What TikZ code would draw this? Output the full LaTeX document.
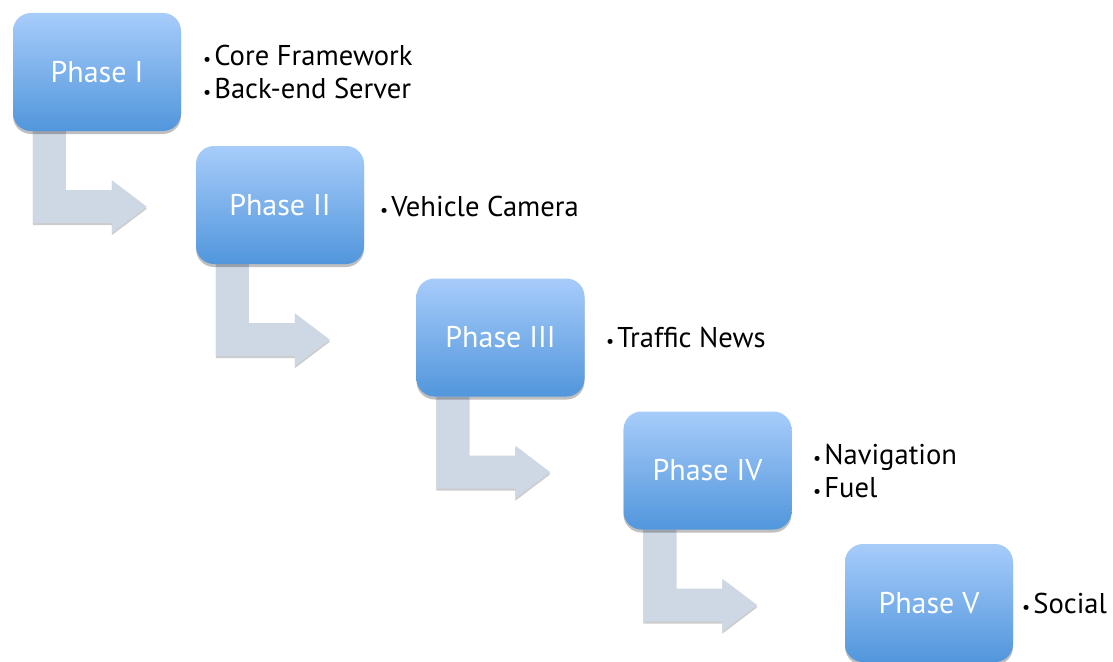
\documentclass[tikz,border=0pt]{standalone}
\usepackage{fontspec}
\setmainfont{PT Sans}
\usetikzlibrary{shadows,calc}
\pgfdeclarelayer{bg}\pgfdeclarelayer{arr}\pgfsetlayers{bg,arr,main}
\definecolor{boxtop}{HTML}{A7CCFA}
\definecolor{boxbot}{HTML}{5196DC}
\definecolor{arrowcol}{HTML}{CED7E4}
\newcommand{\bul}{{\fontsize{18}{18}\selectfont\textbullet}\hspace{3pt}}
\tikzset{
  phasebox/.style={rounded corners=18pt, minimum width=168pt, minimum height=118pt,
    top color=boxtop, bottom color=boxbot, text=white, inner sep=0pt,
    font=\fontsize{30}{36}\selectfont,
    drop shadow={shadow xshift=0pt, shadow yshift=-3pt, opacity=0.25, fill=black}},
  itemtext/.style={anchor=west, align=left, inner sep=0pt, text=black,
    font=\fontsize{28.6}{33}\selectfont},
  bentarrow/.style={fill=arrowcol,
    drop shadow={shadow xshift=0pt, shadow yshift=-2pt, opacity=0.2, fill=black}}
}
\newcommand{\bentfrom}[1]{%
  \fill[bentarrow] ([xshift=20pt]#1.south west) -- ++(0,92) -- ++(79,0) -- ++(0,10)
    -- ++(35,-26.5) -- ++(-35,-26.5) -- ++(0,10) -- ++(-46,0) -- ++(0,-59) -- cycle;}
\begin{document}
\begin{tikzpicture}[x=1pt,y=-1pt]
\begin{pgfonlayer}{bg}
  \fill[white] (0,0) rectangle (1113,661);
\end{pgfonlayer}
\useasboundingbox (0,0) rectangle (1113,661);

\node[phasebox] (b1) at (97,72) {Phase I};
\node[phasebox] (b2) at (280,205) {Phase II};
\node[phasebox] (b3) at (500.5,337.5) {Phase III};
\node[phasebox] (b4) at (707.5,470.5) {Phase IV};
\node[phasebox] (b5) at (929,603) {Phase V};

\node[itemtext] (t1) at (203,72) {\bul Core Framework\\\bul Back-end Server};
\node[itemtext] (t2) at (380,206) {\bul Vehicle Camera};
\node[itemtext] (t3) at (606,338) {\bul Traffic News};
\node[itemtext] (t4) at (813,470.5) {\bul Navigation\\\bul Fuel};
\node[itemtext] (t5) at (1022,603) {\bul Social};

\begin{pgfonlayer}{arr}
  \bentfrom{b1}
  \bentfrom{b2}
  \bentfrom{b3}
  \bentfrom{b4}
\end{pgfonlayer}
\end{tikzpicture}
\end{document}
